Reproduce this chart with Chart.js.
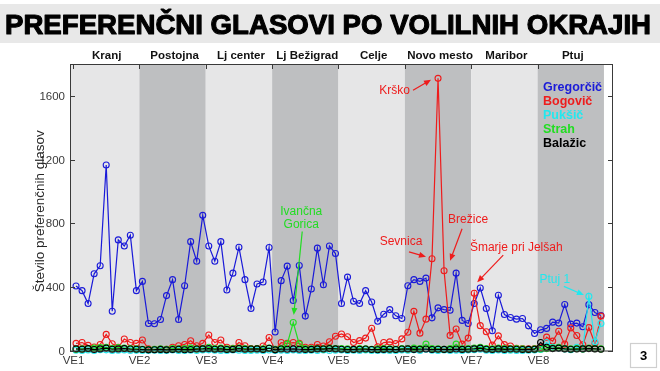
<!DOCTYPE html>
<html>
<head>
<meta charset="utf-8">
<script src="https://cdn.jsdelivr.net/npm/chart.js@4.4.1/dist/chart.umd.min.js"></script>
<style>
html, body { margin: 0; padding: 0; background: #fff; }
canvas { display: block; }
</style>
</head>
<body>
<canvas id="chart" width="660" height="371"></canvas>
<script>
// volilne enote (11 okrajev vsaka)
const regions = ['Kranj', 'Postojna', 'Lj center', 'Lj Bežigrad', 'Celje', 'Novo mesto', 'Maribor', 'Ptuj'];
const veLabels = ['VE1', 'VE2', 'VE3', 'VE4', 'VE5', 'VE6', 'VE7', 'VE8'];
const veTicks = [0.5, 11.5, 22.5, 33.5, 44.5, 55.5, 66.5, 77.5];
const yTicks = [0, 400, 800, 1200, 1600];

const gregorcic = [405, 376, 295, 482, 532, 1165, 247, 695, 657, 724, 376,
    434, 170, 168, 195, 345, 445, 195, 407, 684, 561, 849,
    657, 561, 684, 380, 486, 649, 445, 264, 418, 430, 647,
    116, 439, 530, 314, 534, 216, 386, 643, 413, 657, 609,
    295, 461, 309, 295, 376, 305, 184, 228, 257, 218, 201,
    407, 445, 434, 455, 205, 268, 257, 253, 486, 189, 170,
    295, 393, 264, 124, 347, 226, 207, 197, 201, 155, 107,
    130, 139, 178, 172, 289, 166, 172, 149, 288, 239, 220];
const bogovic = [45, 50, 32, 22, 38, 101, 42, 20, 72, 50, 45,
    66, 10, 5, 5, 8, 20, 30, 38, 61, 30, 45,
    97, 50, 66, 20, 14, 50, 30, 12, 12, 28, 82,
    5, 50, 45, 50, 45, 20, 20, 38, 28, 55, 90,
    104, 86, 50, 62, 78, 140, 24, 50, 54, 43, 73,
    115, 246, 109, 197, 576, 1710, 501, 95, 135, 40, 78,
    360, 156, 118, 34, 92, 37, 28, 14, 12, 10, 12,
    20, 84, 59, 121, 40, 142, 94, 36, 144, 45, 216];
const puksic = [2, 0, 3, 0, 5, 4, 0, 2, 3, 0, 1,
    0, 0, 2, 0, 0, 3, 0, 0, 2, 0, 3,
    4, 2, 0, 0, 3, 2, 0, 0, 2, 0, 3,
    0, 2, 0, 3, 0, 0, 2, 0, 3, 0, 2,
    3, 0, 2, 0, 3, 0, 0, 2, 0, 0, 3,
    2, 4, 0, 8, 2, 0, 3, 0, 2, 0, 3,
    5, 8, 2, 0, 3, 0, 2, 0, 0, 2, 3,
    6, 50, 20, 15, 10, 5, 20, 10, 340, 55, 170];
const strah = [8, 10, 12, 15, 18, 20, 12, 18, 15, 12, 10,
    8, 6, 8, 10, 8, 12, 10, 12, 15, 10, 12,
    20, 12, 15, 10, 12, 15, 12, 10, 12, 10, 15,
    8, 12, 40, 176, 40, 12, 10, 12, 10, 15, 12,
    12, 10, 8, 12, 10, 8, 10, 12, 10, 8, 12,
    10, 15, 12, 40, 12, 10, 8, 12, 40, 10, 12,
    15, 20, 12, 10, 15, 12, 10, 12, 10, 8, 10,
    10, 12, 15, 20, 12, 10, 12, 10, 15, 12, 10];
const balazic = [10, 8, 12, 6, 10, 15, 8, 10, 12, 9, 8,
    6, 4, 5, 7, 4, 6, 8, 5, 6, 9, 10,
    12, 8, 10, 6, 7, 12, 8, 9, 10, 6, 14,
    4, 9, 8, 10, 8, 6, 7, 10, 9, 12, 10,
    8, 6, 7, 8, 9, 6, 5, 7, 8, 6, 9,
    10, 7, 8, 9, 6, 8, 7, 6, 9, 7, 8,
    10, 15, 8, 6, 10, 7, 9, 8, 6, 7, 8,
    50, 20, 12, 15, 10, 8, 9, 10, 12, 10, 8];

const BLUE = '#1a1ad8', RED = '#ee1c1c', CYAN = '#22e8ee', GREEN = '#22dd22', BLACK = '#000000';

function toPoints(arr) {
    return arr.map((v, i) => ({x: i + 1, y: v}));
}

function series(label, arr, color, order) {
    return {
        label: label,
        data: toPoints(arr),
        borderColor: color,
        backgroundColor: 'rgba(0,0,0,0)',
        borderWidth: 1.2,
        pointRadius: 3,
        pointBorderWidth: 1.1,
        pointBorderColor: color,
        pointBackgroundColor: 'rgba(0,0,0,0)',
        tension: 0,
        clip: false,
        order: order
    };
}

// opombe ob izstopajocih okrajih (odmiki v px od tocke)
const notes = [
    {lines: ['Krško'], ds: 1, idx: 61, color: RED, tx: -28, ty: 12, align: 'right', ax: -25, ay: 12, bx: -7, by: 1.5},
    {lines: ['Sevnica'], ds: 1, idx: 60, color: RED, tx: -31, ty: -17, align: 'center', ax: -23, ay: -7, bx: -6, by: -2},
    {lines: ['Brežice'], ds: 1, idx: 62, color: RED, tx: 24, ty: -51, align: 'center', ax: 18, ay: -42, bx: 6, by: -10},
    {lines: ['Šmarje pri Jelšah'], ds: 1, idx: 67, color: RED, tx: 42, ty: -46, align: 'center', ax: 29, ay: -38, bx: 3, by: -11},
    {lines: ['Ivančna', 'Gorica'], ds: 3, idx: 37, color: GREEN, tx: 8, ty: -111, align: 'center', ax: 9, ay: -91, bx: 0.5, by: -7.5},
    {lines: ['Ptuj 1'], ds: 2, idx: 86, color: CYAN, tx: -34, ty: -17, align: 'center', ax: -25, ay: -10, bx: -5, by: -1.5}
];

function arrow(ctx, x1, y1, x2, y2, color) {
    const a = Math.atan2(y2 - y1, x2 - x1);
    ctx.strokeStyle = color;
    ctx.fillStyle = color;
    ctx.lineWidth = 1.2;
    ctx.beginPath();
    ctx.moveTo(x1, y1);
    ctx.lineTo(x2 - 5 * Math.cos(a), y2 - 5 * Math.sin(a));
    ctx.stroke();
    ctx.beginPath();
    ctx.moveTo(x2, y2);
    ctx.lineTo(x2 - 7 * Math.cos(a) + 3 * Math.sin(a), y2 - 7 * Math.sin(a) - 3 * Math.cos(a));
    ctx.lineTo(x2 - 7 * Math.cos(a) - 3 * Math.sin(a), y2 - 7 * Math.sin(a) + 3 * Math.cos(a));
    ctx.closePath();
    ctx.fill();
}

const decor = {
    id: 'decor',
    beforeDraw(chart) {
        const ctx = chart.ctx;
        ctx.save();
        ctx.fillStyle = '#fff';
        ctx.fillRect(0, 0, chart.width, chart.height);
        // naslovni pas
        ctx.fillStyle = '#e8e8e8';
        ctx.fillRect(0, 4, chart.width, 39);
        const title = 'PREFERENČNI GLASOVI PO VOLILNIH OKRAJIH';
        ctx.font = 'bold 27px "Liberation Sans", Arial, sans-serif';
        const w = ctx.measureText(title).width;
        ctx.translate(5, 33.5);
        ctx.scale(646 / w, 1);
        ctx.fillStyle = '#000';
        ctx.strokeStyle = '#000';
        ctx.lineWidth = 1.1;
        ctx.lineJoin = 'round';
        ctx.textBaseline = 'alphabetic';
        ctx.fillText(title, 0, 0);
        ctx.strokeText(title, 0, 0);
        ctx.restore();
    },
    beforeDatasetsDraw(chart) {
        const ctx = chart.ctx, xs = chart.scales.x, area = chart.chartArea;
        ctx.save();
        regions.forEach((name, i) => {
            const x0 = i === 0 ? area.left : xs.getPixelForValue(veTicks[i]);
            const x1 = xs.getPixelForValue(veTicks[i] + 11);
            ctx.fillStyle = i % 2 === 0 ? '#e6e6e7' : '#bebfc1';
            ctx.fillRect(x0, area.top, x1 - x0, area.bottom - area.top);
            ctx.fillStyle = '#111';
            ctx.font = 'bold 11.5px "Liberation Sans", Arial, sans-serif';
            ctx.textAlign = 'center';
            ctx.textBaseline = 'middle';
            ctx.fillText(name, (x0 + x1) / 2 + 2, area.top - 8);
        });
        ctx.restore();
    },
    afterDatasetsDraw(chart) {
        const ctx = chart.ctx, xs = chart.scales.x, ys = chart.scales.y, area = chart.chartArea;
        ctx.save();
        // okvir in oznake
        ctx.strokeStyle = '#3a3a3a';
        ctx.lineWidth = 1;
        ctx.strokeRect(area.left + 0.5, area.top + 0.5, area.right - area.left - 1, area.bottom - area.top);
        ctx.font = '11.5px "Liberation Sans", Arial, sans-serif';
        ctx.fillStyle = '#3a3a3a';
        yTicks.forEach(v => {
            const y = Math.round(ys.getPixelForValue(v)) + 0.5;
            ctx.beginPath();
            ctx.moveTo(area.left, y); ctx.lineTo(area.left + 5, y);
            ctx.moveTo(area.right, y); ctx.lineTo(area.right - 5, y);
            ctx.stroke();
            ctx.textAlign = 'right';
            ctx.textBaseline = 'middle';
            ctx.fillText(String(v), area.left - 5, y);
        });
        veTicks.forEach((v, i) => {
            const x = Math.round(xs.getPixelForValue(v)) + 0.5;
            ctx.beginPath();
            ctx.moveTo(x, area.bottom); ctx.lineTo(x, area.bottom - 5);
            ctx.moveTo(x, area.top); ctx.lineTo(x, area.top + 5);
            ctx.stroke();
            ctx.textAlign = 'center';
            ctx.textBaseline = 'middle';
            ctx.fillText(veLabels[i], x, area.bottom + 10);
        });
        // os y
        ctx.save();
        ctx.translate(40, (area.top + area.bottom) / 2 + 4);
        ctx.rotate(-Math.PI / 2);
        ctx.font = '13.5px "Liberation Sans", Arial, sans-serif';
        ctx.fillStyle = '#262626';
        ctx.textAlign = 'center';
        ctx.textBaseline = 'middle';
        ctx.fillText('Število preferenčnih glasov', 0, 0);
        ctx.restore();
        // legenda
        ctx.font = 'bold 12.5px "Liberation Sans", Arial, sans-serif';
        ctx.textAlign = 'left';
        ctx.textBaseline = 'middle';
        chart.data.datasets.forEach((ds, i) => {
            ctx.fillStyle = ds.borderColor;
            ctx.fillText(ds.label, 543, 88 + i * 14);
        });
        // opombe
        ctx.font = '12px "Liberation Sans", Arial, sans-serif';
        notes.forEach(n => {
            const p = chart.getDatasetMeta(n.ds).data[n.idx - 1];
            ctx.fillStyle = n.color;
            ctx.textAlign = n.align;
            ctx.textBaseline = 'middle';
            n.lines.forEach((t, j) => ctx.fillText(t, p.x + n.tx, p.y + n.ty + j * 13));
            arrow(ctx, p.x + n.ax, p.y + n.ay, p.x + n.bx, p.y + n.by, n.color);
        });
        // stevilka strani
        ctx.fillStyle = '#fff';
        ctx.strokeStyle = '#cfcfcf';
        ctx.fillRect(630, 343, 26, 24);
        ctx.strokeRect(630.5, 343.5, 26, 24);
        ctx.fillStyle = '#000';
        ctx.font = 'bold 13px "Liberation Sans", Arial, sans-serif';
        ctx.textAlign = 'center';
        ctx.fillText('3', 643.5, 356);
        ctx.restore();
    }
};

new Chart(document.getElementById('chart'), {
    type: 'line',
    data: {
        datasets: [
            series('Gregorčič', gregorcic, BLUE, 5),
            series('Bogovič', bogovic, RED, 4),
            series('Pukšič', puksic, CYAN, 3),
            series('Strah', strah, GREEN, 2),
            series('Balažic', balazic, BLACK, 1)
        ]
    },
    options: {
        responsive: false,
        animation: false,
        devicePixelRatio: 1,
        layout: {
            padding: {left: 70, right: 47, top: 64, bottom: 20.5}
        },
        scales: {
            x: {type: 'linear', min: 0, max: 90, display: false},
            y: {min: 0, max: 1800, display: false}
        },
        plugins: {
            legend: {display: false},
            tooltip: {enabled: false}
        }
    },
    plugins: [decor]
});
</script>
</body>
</html>
